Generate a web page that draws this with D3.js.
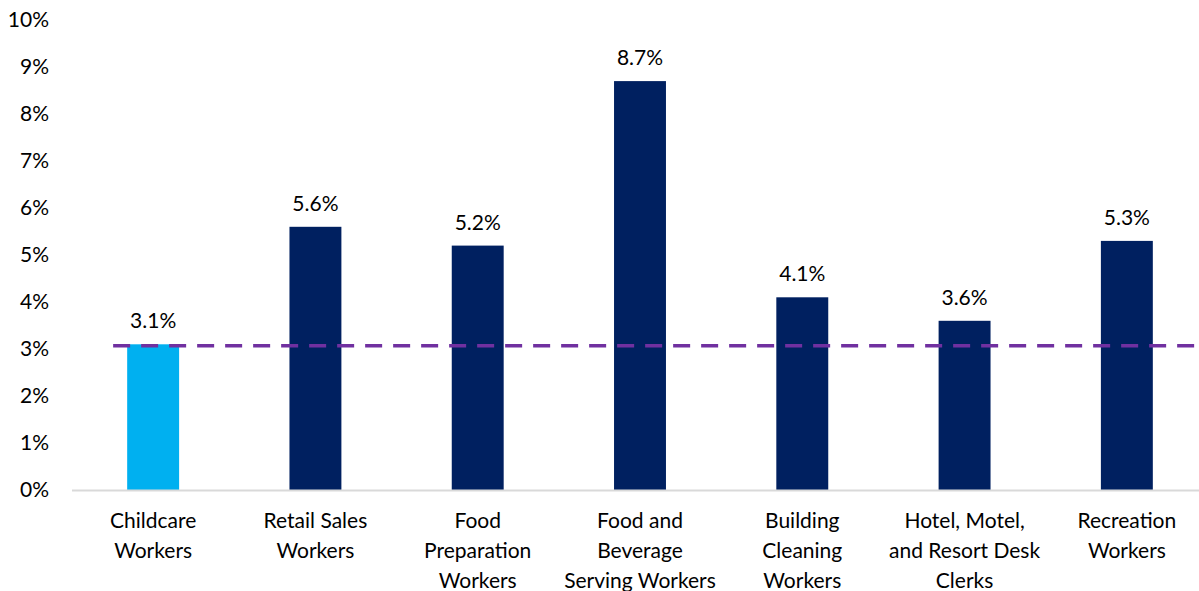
<!DOCTYPE html>
<html>
<head>
<meta charset="utf-8">
<script src="https://cdn.jsdelivr.net/npm/d3@7"></script>
<style>
  body { margin: 0; background: #fff; }
  text { font-family: Lato, "Noto Sans", sans-serif; fill: #000; }
</style>
</head>
<body>
<svg width="1199" height="591"></svg>
<script>
var categories = [
  ["Childcare", "Workers"],
  ["Retail Sales", "Workers"],
  ["Food", "Preparation", "Workers"],
  ["Food and", "Beverage", "Serving Workers"],
  ["Building", "Cleaning", "Workers"],
  ["Hotel, Motel,", "and Resort Desk", "Clerks"],
  ["Recreation", "Workers"]
];
var values = [3.1, 5.6, 5.2, 8.7, 4.1, 3.6, 5.3];
var barColors = ["#00B0F0", "#002060", "#002060", "#002060", "#002060", "#002060", "#002060"];
var benchmark = 3.07;   // childcare level, dashed line
var yTicks = [0, 1, 2, 3, 4, 5, 6, 7, 8, 9, 10];

var svg = d3.select("svg"),
    width = +svg.attr("width"),
    height = +svg.attr("height");

var x = d3.scaleBand()
    .domain(d3.range(categories.length))
    .range([72, 1208])
    .paddingInner(0.68)
    .paddingOuter(0.34);

var y = d3.scaleLinear()
    .domain([0, 10])
    .range([490, 20]);

// y axis labels, no line
var yAxis = svg.append("g")
    .attr("transform", "translate(49,0)")
    .call(d3.axisLeft(y).tickValues(yTicks).tickSize(0).tickPadding(0)
      .tickFormat(function(d) { return d + "%"; }));
yAxis.select(".domain").remove();
yAxis.selectAll("text")
    .attr("font-size", 21)
    .attr("font-family", "Lato, 'Noto Sans', sans-serif")
    .attr("fill", "#000");

// bars
svg.append("g")
  .selectAll("rect")
  .data(values)
  .enter().append("rect")
    .attr("x", function(d, i) { return x(i); })
    .attr("y", function(d) { return y(d); })
    .attr("width", x.bandwidth())
    .attr("height", function(d) { return y(0) - y(d); })
    .attr("fill", function(d, i) { return barColors[i]; });

// baseline
svg.append("line")
    .attr("x1", 72).attr("x2", width)
    .attr("y1", y(0) + 0.5).attr("y2", y(0) + 0.5)
    .attr("stroke", "#D9D9D9")
    .attr("stroke-width", 2);

// dashed benchmark line
svg.append("line")
    .attr("x1", x(0) + x.bandwidth() / 2 - 40)
    .attr("x2", width)
    .attr("y1", y(benchmark)).attr("y2", y(benchmark))
    .attr("stroke", "#7030A0")
    .attr("stroke-width", 3.5)
    .attr("stroke-dasharray", "17,11");

// value labels
svg.append("g")
  .selectAll("text")
  .data(values)
  .enter().append("text")
    .attr("x", function(d, i) { return x(i) + x.bandwidth() / 2; })
    .attr("y", function(d) { return y(d) - 16; })
    .attr("text-anchor", "middle")
    .attr("font-size", 21)
    .text(function(d) { return d.toFixed(1) + "%"; });

// category labels
var cat = svg.append("g")
  .selectAll("text")
  .data(categories)
  .enter().append("text")
    .attr("x", function(d, i) { return x(i) + x.bandwidth() / 2; })
    .attr("y", 528)
    .attr("text-anchor", "middle")
    .attr("font-size", 21);

cat.selectAll("tspan")
  .data(function(d) { return d; })
  .enter().append("tspan")
    .attr("x", function() { return d3.select(this.parentNode).attr("x"); })
    .attr("dy", function(d, i) { return i === 0 ? 0 : 30; })
    .text(function(d) { return d; });
</script>
</body>
</html>
